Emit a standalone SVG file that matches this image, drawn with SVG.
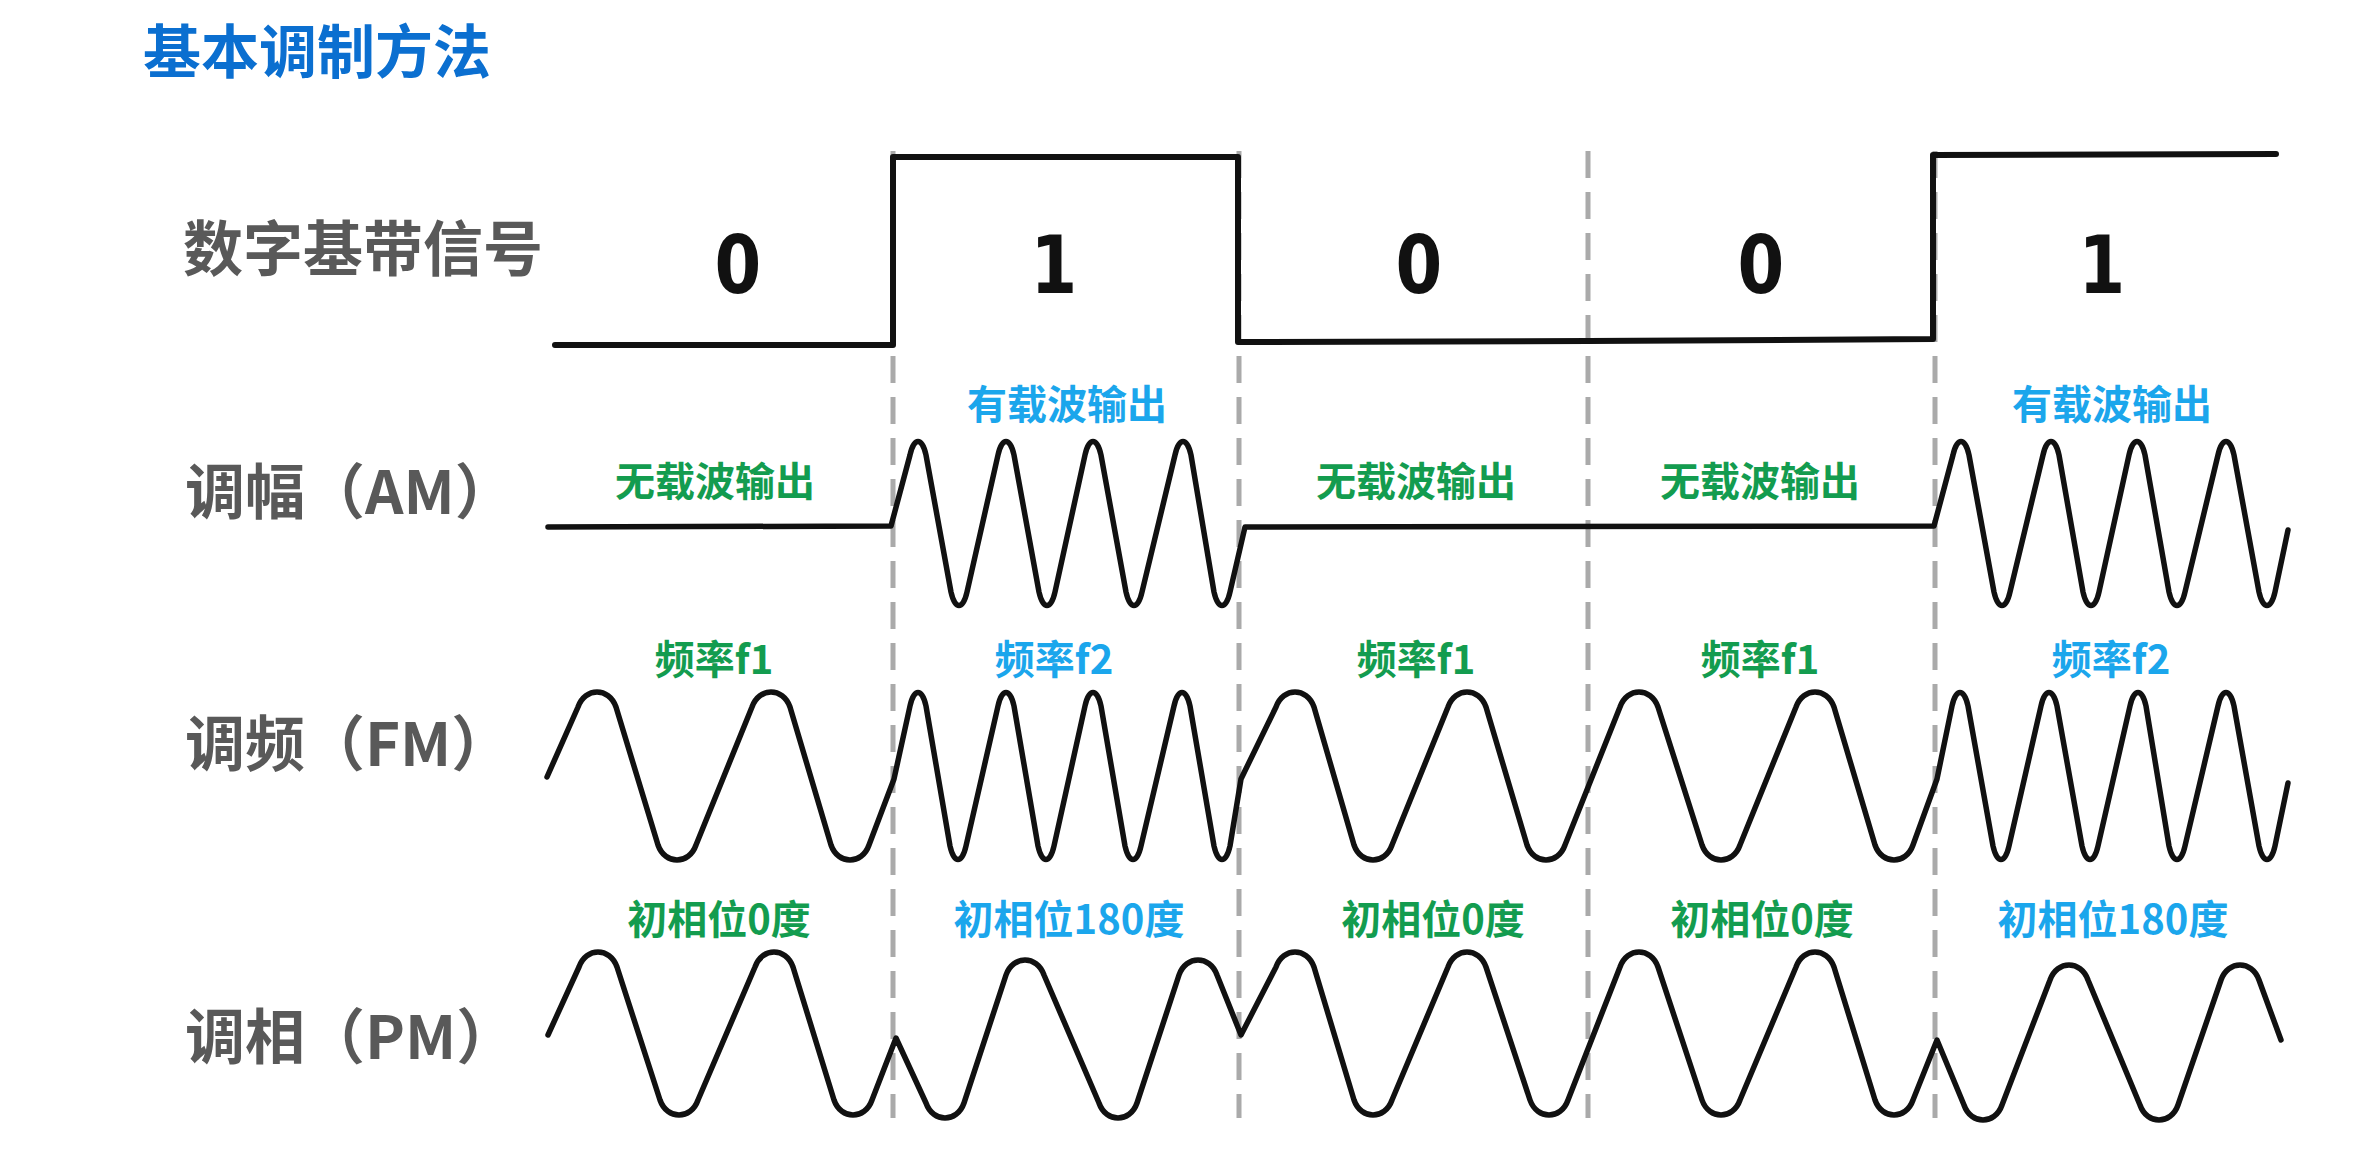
<svg xmlns="http://www.w3.org/2000/svg" width="2355" height="1155" viewBox="0 0 2355 1155">
<style>
text{font-family:"Noto Sans CJK SC","Noto Sans",sans-serif;font-weight:bold}
.title{font-size:58px;fill:#0b6fd0}
.row{font-size:60px;fill:#595959}
.bit{font-family:"DejaVu Sans",sans-serif;font-size:80px;fill:#111;text-anchor:middle}
.g{font-size:40px;fill:#139c4f;text-anchor:middle}
.b{font-size:40px;fill:#1ba6ec;text-anchor:middle}
.dash{stroke:#aaaaaa;stroke-width:5;stroke-dasharray:27 14;fill:none}
.wave{stroke:#111;stroke-width:5.5;fill:none;stroke-linejoin:round;stroke-linecap:round}
</style>
<rect width="2355" height="1155" fill="#ffffff"/>
<text class="title" x="143" y="73">基本调制方法</text>

<g id="grid">
<line class="dash" x1="893" y1="151" x2="893" y2="1118"/>
<line class="dash" x1="1239" y1="151" x2="1239" y2="1118"/>
<line class="dash" x1="1588" y1="151" x2="1588" y2="1118"/>
<line class="dash" x1="1935" y1="151" x2="1935" y2="1118"/>
</g>

<g id="digital">
<text class="row" x="183" y="271">数字基带信号</text>
<path class="wave" style="stroke-width:6" d="M555,345 L893,345 L893,157 L1238,157 L1238,342 L1588,341 L1933,339 L1933,155 L2276,154"/>
<text class="bit" transform="translate(738,293) scale(0.84,1)">0</text>
<text class="bit" transform="translate(1054,293) scale(0.84,1)">1</text>
<text class="bit" transform="translate(1419,293) scale(0.84,1)">0</text>
<text class="bit" transform="translate(1761,293) scale(0.84,1)">0</text>
<text class="bit" transform="translate(2102,293) scale(0.84,1)">1</text>
</g>

<g id="am">
<text class="row" x="185" y="514">调幅（AM）</text>
<text class="g" x="715" y="496">无载波输出</text>
<text class="b" x="1067" y="419">有载波输出</text>
<text class="g" x="1416" y="496">无载波输出</text>
<text class="g" x="1760" y="496">无载波输出</text>
<text class="b" x="2112" y="419">有载波输出</text>
<path class="wave" d="M548,527 L891,526
L910,455 C914,437 922,437 926,455
L951,592 C955,610 963,610 967,592
L998,455 C1002,437 1010,437 1014,455
L1039,592 C1043,610 1051,610 1055,592
L1085,455 C1089,437 1097,437 1101,455
L1126,592 C1130,610 1138,610 1142,592
L1175,455 C1179,437 1187,437 1191,455
L1214,592 C1218,610 1226,610 1230,592
L1245,527 L1934,526
L1953,455 C1957,437 1965,437 1969,455
L1994,592 C1998,610 2006,610 2010,592
L2043,455 C2047,437 2055,437 2059,455
L2083,592 C2087,610 2095,610 2099,592
L2129,455 C2133,437 2141,437 2145,455
L2169,592 C2173,610 2181,610 2185,592
L2218,455 C2222,437 2230,437 2234,455
L2259,592 C2263,610 2271,610 2275,592
L2288,530"/>
</g>

<g id="fm">
<text class="row" x="185" y="766">调频（FM）</text>
<text class="g" x="714" y="674">频率f1</text>
<text class="b" x="1054" y="674">频率f2</text>
<text class="g" x="1416" y="674">频率f1</text>
<text class="g" x="1760" y="674">频率f1</text>
<text class="b" x="2111" y="674">频率f2</text>
<path class="wave" d="M547,777
L578,707 C585,687 609,687 616,707
L658,845 C665,865 689,865 696,845
L752,707 C759,687 783,687 790,707
L831,845 C838,865 862,865 869,845
L894,779
L910,706 C914,688 922,688 926,706
L950,846 C954,864 962,864 966,846
L998,706 C1002,688 1010,688 1014,706
L1038,846 C1042,864 1050,864 1054,846
L1085,706 C1089,688 1097,688 1101,706
L1125,846 C1129,864 1137,864 1141,846
L1174,706 C1178,688 1186,688 1190,706
L1214,846 C1218,864 1226,864 1230,846
L1241,779
L1276,707 C1283,687 1307,687 1314,707
L1354,845 C1361,865 1385,865 1392,845
L1448,707 C1455,687 1479,687 1486,707
L1527,845 C1534,865 1558,865 1565,845
L1620,707 C1627,687 1651,687 1658,707
L1702,845 C1709,865 1733,865 1740,845
L1796,707 C1803,687 1827,687 1834,707
L1875,845 C1882,865 1906,865 1913,845
L1937,779
L1952,706 C1956,688 1964,688 1968,706
L1993,846 C1997,864 2005,864 2009,846
L2041,706 C2045,688 2053,688 2057,706
L2082,846 C2086,864 2094,864 2098,846
L2130,706 C2134,688 2142,688 2146,706
L2169,846 C2173,864 2181,864 2185,846
L2218,706 C2222,688 2230,688 2234,706
L2259,846 C2263,864 2271,864 2275,846
L2288,783"/>
</g>

<g id="pm">
<text class="row" x="185" y="1059">调相（PM）</text>
<text class="g" x="719" y="934">初相位0度</text>
<text class="b" x="1069" y="934">初相位180度</text>
<text class="g" x="1433" y="934">初相位0度</text>
<text class="g" x="1762" y="934">初相位0度</text>
<text class="b" x="2113" y="934">初相位180度</text>
<path class="wave" d="M548,1035
L579,967 C586,947 610,947 617,967
L660,1100 C667,1120 691,1120 698,1100
L755,967 C762,947 786,947 793,967
L834,1100 C841,1120 865,1120 872,1100
L896,1038
L926,1103 C933,1123 957,1123 964,1103
L1006,975 C1013,955 1037,955 1044,975
L1099,1103 C1106,1123 1130,1123 1137,1103
L1179,975 C1186,955 1210,955 1217,975
L1241,1035
L1276,967 C1283,947 1307,947 1314,967
L1354,1100 C1361,1120 1385,1120 1392,1100
L1448,967 C1455,947 1479,947 1486,967
L1530,1100 C1537,1120 1561,1120 1568,1100
L1620,967 C1627,947 1651,947 1658,967
L1702,1100 C1709,1120 1733,1120 1740,1100
L1796,967 C1803,947 1827,947 1834,967
L1875,1100 C1882,1120 1906,1120 1913,1100
L1937,1040
L1964,1105 C1971,1125 1995,1125 2002,1105
L2050,980 C2057,960 2081,960 2088,980
L2140,1105 C2147,1125 2171,1125 2178,1105
L2221,980 C2228,960 2252,960 2259,980
L2281,1040"/>
</g>
</svg>
